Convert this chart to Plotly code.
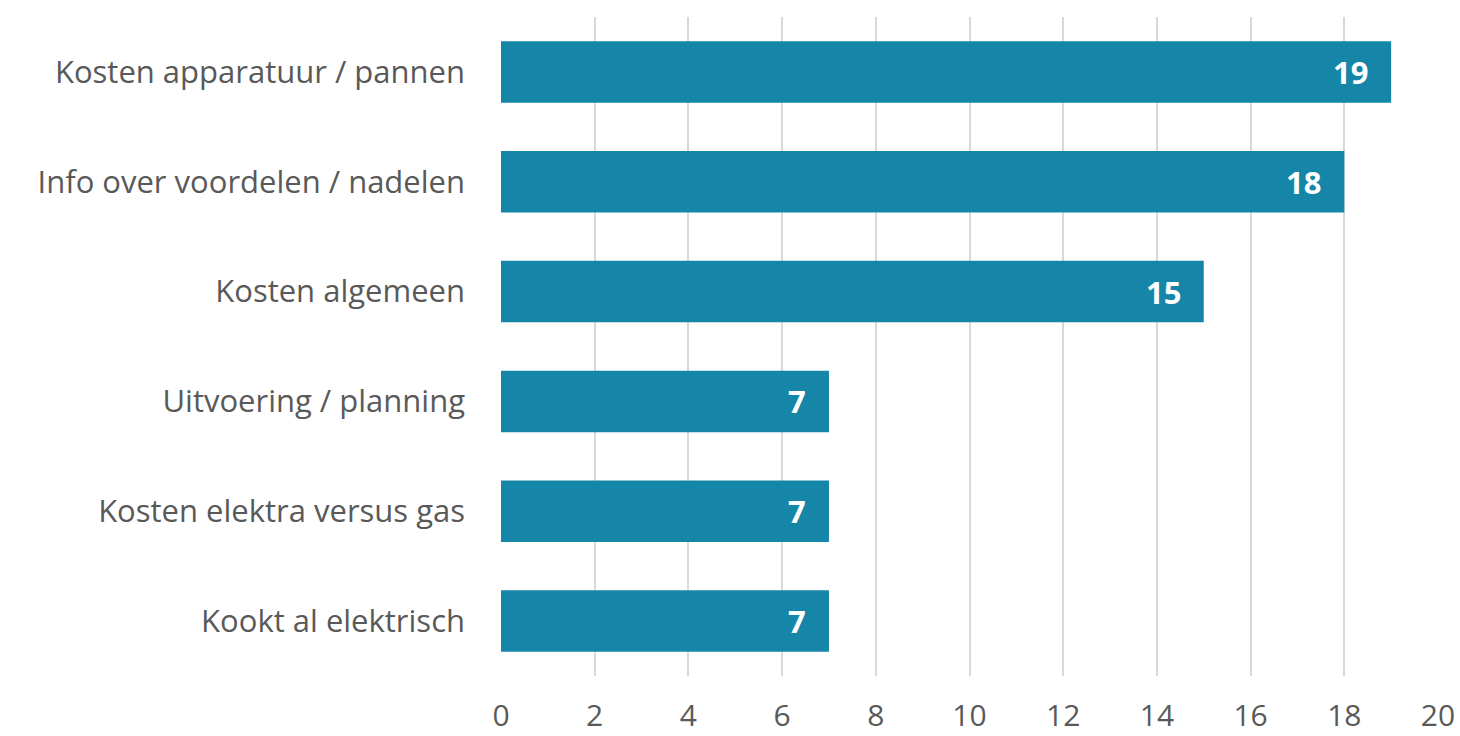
import plotly.graph_objects as go

categories = ["Kosten apparatuur / pannen", "Info over voordelen / nadelen", "Kosten algemeen",
              "Uitvoering / planning", "Kosten elektra versus gas", "Kookt al elektrisch"]
values = [19, 18, 15, 7, 7, 7]
tick_vals = [0, 2, 4, 6, 8, 10, 12, 14, 16, 18, 20]

BAR = "#1586A8"
FONT = "Open Sans, Lato, sans-serif"

fig = go.Figure(go.Bar(
    x=values, y=categories, orientation="h",
    marker=dict(color=BAR, line=dict(width=0)),
    width=0.56,
))

for c, v in zip(categories, values):
    fig.add_annotation(x=v, y=c, text=f"<b>{v}</b>", showarrow=False,
                       xanchor="right", xshift=-21,
                       font=dict(family=FONT, size=31, color="white"))

fig.update_layout(
    width=1460, height=736,
    margin=dict(l=501, r=22, t=17, b=60),
    paper_bgcolor="white", plot_bgcolor="white",
    showlegend=False,
    xaxis=dict(range=[0, 20], tickvals=tick_vals, showgrid=True,
               gridcolor="#D9D9D9", gridwidth=2, zeroline=False,
               ticks="", tickfont=dict(family=FONT, size=30, color="#595959"),
               ticklabelstandoff=19, automargin=False, fixedrange=True),
    yaxis=dict(autorange="reversed", showgrid=False, zeroline=False,
               ticks="", ticklabelstandoff=35, automargin=False,
               tickfont=dict(family=FONT, size=31, color="#595959")),
)

fig.write_html("out.html", config={"displayModeBar": False},
               post_script="document.body.style.margin='0';document.body.style.overflow='hidden';")
